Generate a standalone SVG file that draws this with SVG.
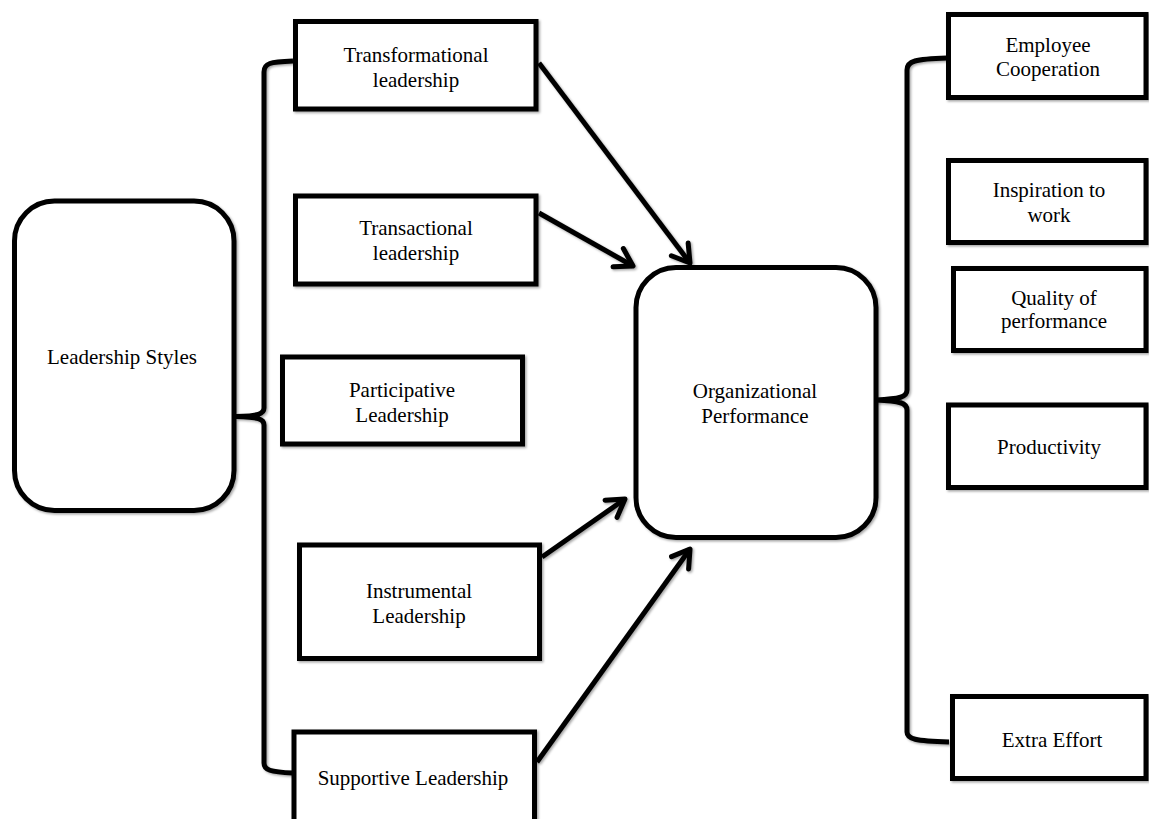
<svg xmlns="http://www.w3.org/2000/svg" width="1149" height="819" viewBox="0 0 1149 819">
<style>
.box{fill:#fff;stroke:#000;stroke-width:5;filter:url(#sh)}
.lbl{font-family:"Liberation Serif","Times New Roman",serif;font-size:21px;fill:#000;text-anchor:middle}
.con{fill:none;stroke:#000;stroke-width:5;filter:url(#sh)}
.arr{marker-end:url(#ah)}
</style>
<defs>
<filter id="sh" x="-10%" y="-10%" width="130%" height="130%">
<feDropShadow dx="1.5" dy="1.5" stdDeviation="1" flood-color="#000" flood-opacity="0.35"/>
</filter>
<marker id="ah" markerUnits="userSpaceOnUse" markerWidth="30" markerHeight="30" refX="0" refY="0" orient="auto" overflow="visible">
<path d="M -17 -10.5 L 0 0 L -17 10.5" fill="none" stroke="#000" stroke-width="5" stroke-linejoin="round" stroke-linecap="round"/>
</marker>
</defs>
<rect width="1149" height="819" fill="#fff"/>
<g id="connectors">
<path class="con" d="M 293 61 C 270 62 264 63 264 72 L 264 408 C 264 414 258 416 236 416.5 C 258 417 264 419 264 425 L 264 763 C 264 770 270 772 293 773"/>
<path class="con" d="M 947 58 C 915 59 907 61 907 70 L 907 390 C 907 397 900 399 876 400 C 900 401 907 403 907 410 L 907 732 C 907 739 915 741 949 742"/>
<line class="con arr" x1="539" y1="63" x2="690" y2="263"/>
<line class="con arr" x1="539" y1="213" x2="633" y2="266"/>
<line class="con arr" x1="524" y1="396" x2="624" y2="396"/>
<line class="con arr" x1="542" y1="557" x2="625" y2="499"/>
<line class="con arr" x1="537" y1="762" x2="690" y2="549"/>
</g>
<g id="leadership-styles">
<rect class="box" x="14.5" y="201" width="219.5" height="309.5" rx="40"/>
<text class="lbl" x="122" y="364">Leadership Styles</text>
</g>
<g id="transformational">
<rect class="box" x="295.5" y="21.5" width="240.5" height="87.5"/>
<text class="lbl" x="416" y="62">Transformational</text>
<text class="lbl" x="416" y="87">leadership</text>
</g>
<g id="transactional">
<rect class="box" x="295.5" y="196" width="240.5" height="88"/>
<text class="lbl" x="416" y="235">Transactional</text>
<text class="lbl" x="416" y="260">leadership</text>
</g>
<g id="participative">
<rect class="box" x="282.5" y="357" width="240" height="87"/>
<text class="lbl" x="402" y="397">Participative</text>
<text class="lbl" x="402" y="422">Leadership</text>
</g>
<g id="instrumental">
<rect class="box" x="299.5" y="545" width="240" height="113.5"/>
<text class="lbl" x="419" y="598">Instrumental</text>
<text class="lbl" x="419" y="623">Leadership</text>
</g>
<g id="supportive">
<rect class="box" x="294" y="732" width="240.5" height="100"/>
<text class="lbl" x="413" y="785">Supportive Leadership</text>
</g>
<g id="organizational-performance">
<rect class="box" x="636" y="267.5" width="240" height="270" rx="40"/>
<text class="lbl" x="755" y="398">Organizational</text>
<text class="lbl" x="755" y="423">Performance</text>
</g>
<g id="employee-cooperation">
<rect class="box" x="948.5" y="14.5" width="197.5" height="83"/>
<text class="lbl" x="1048" y="52">Employee</text>
<text class="lbl" x="1048" y="76">Cooperation</text>
</g>
<g id="inspiration">
<rect class="box" x="948.5" y="160.5" width="197.5" height="82"/>
<text class="lbl" x="1049" y="197">Inspiration to</text>
<text class="lbl" x="1049" y="222">work</text>
</g>
<g id="quality">
<rect class="box" x="953.5" y="268.5" width="192.5" height="82"/>
<text class="lbl" x="1054" y="305">Quality of</text>
<text class="lbl" x="1054" y="328">performance</text>
</g>
<g id="productivity">
<rect class="box" x="948.5" y="405" width="197.5" height="82.5"/>
<text class="lbl" x="1049" y="454">Productivity</text>
</g>
<g id="extra-effort">
<rect class="box" x="952.5" y="696.5" width="193.5" height="82"/>
<text class="lbl" x="1052" y="747">Extra Effort</text>
</g>
</svg>
